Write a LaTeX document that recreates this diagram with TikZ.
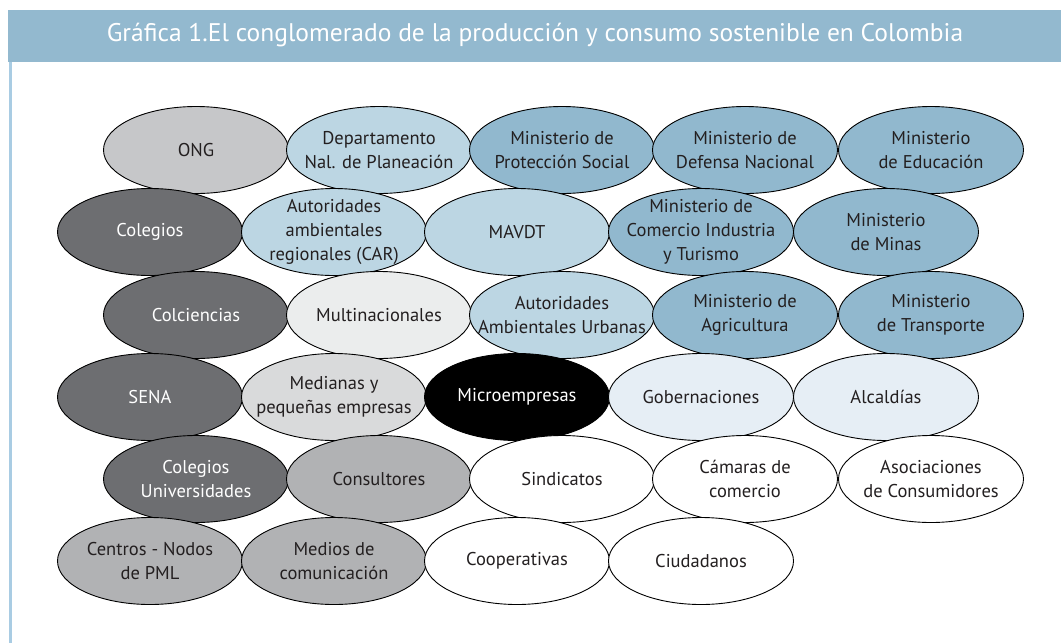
\documentclass[tikz,border=0pt]{standalone}
\usepackage{fontspec}
\setmainfont{PT Sans}
\usetikzlibrary{shapes.geometric}

\definecolor{bandblue}{HTML}{93B9CF}
\definecolor{lineblue}{HTML}{A9CCE3}
\definecolor{inkgray}{HTML}{231F20}
\definecolor{onggray}{HTML}{C6C7C9}
\definecolor{paleblue}{HTML}{BCD6E3}
\definecolor{minblue}{HTML}{91B8CE}
\definecolor{darkgray}{HTML}{6D6E71}
\definecolor{palegray}{HTML}{EBEDED}
\definecolor{lightgray}{HTML}{D9DADB}
\definecolor{iceblue}{HTML}{E6EEF5}
\definecolor{midgray}{HTML}{B1B2B4}

\tikzset{
	org/.style={ellipse,draw=black,line width=0.9pt,minimum width=185pt,minimum height=87pt,
		inner xsep=-30pt,inner ysep=-20pt,align=center,text=inkgray,
		font=\fontsize{18.5}{24}\selectfont},
	dark/.style={fill=darkgray,text=white},
}

\begin{document}
\begin{tikzpicture}[x=1pt,y=-1pt]
				\useasboundingbox (0,0) rectangle (1061,643);
				\fill [bandblue] (8,10) rectangle (1061,62);
				\fill [lineblue] (9,62) rectangle (12,643);
				\node [text=white,font=\fontsize{25.5}{28}\selectfont] (title) at (535,35) {Gráfica 1.El conglomerado de la producción y consumo sostenible en Colombia};
				
				\begin{scope}[every node/.style={org}]
					% fila 1
					\node [fill=onggray] (ong) at (196,150) {ONG};
					\node [fill=paleblue] (dnp) at (379,150) {Departamento\\Nal. de Planeación};
					\node [fill=minblue] (mps) at (562,150) {Ministerio de\\Protección Social};
					\node [fill=minblue] (mdn) at (745,150) {Ministerio de\\Defensa Nacional};
					\node [fill=minblue] (men) at (931,150) {Ministerio\\de Educación};
					% fila 2
					\node [dark] (colegios) at (150,232) {Colegios};
					\node [fill=paleblue] (car) at (334,232) {Autoridades\\ambientales\\regionales (CAR)};
					\node [fill=paleblue] (mavdt) at (517,232) {MAVDT};
					\node [fill=minblue] (mcit) at (701,232) {Ministerio de\\Comercio Industria\\y Turismo};
					\node [fill=minblue] (mminas) at (886,232) {Ministerio\\de Minas};
					% fila 3
					\node [dark] (colciencias) at (196,315) {Colciencias};
					\node [fill=palegray] (multinac) at (379,315) {Multinacionales};
					\node [fill=paleblue] (aau) at (562,315) {Autoridades\\Ambientales Urbanas};
					\node [fill=minblue] (magric) at (745,315) {Ministerio de\\Agricultura};
					\node [fill=minblue] (mtransp) at (931,315) {Ministerio\\de Transporte};
					% fila 4
					\node [dark] (sena) at (150,397) {SENA};
					\node [fill=lightgray] (pymes) at (334,397) {Medianas y\\pequeñas empresas};
					\node [fill=black,text=white] (micro) at (517,397) {Microempresas};
					\node [fill=iceblue] (gober) at (701,397) {Gobernaciones};
					\node [fill=iceblue] (alcald) at (886,397) {Alcaldías};
					% fila 5
					\node [dark] (coluniv) at (196,479) {Colegios\\Universidades};
					\node [fill=midgray] (consult) at (379,479) {Consultores};
					\node [fill=white] (sindic) at (562,479) {Sindicatos};
					\node [fill=white] (camaras) at (745,479) {Cámaras de\\comercio};
					\node [fill=white] (asocons) at (931,479) {Asociaciones\\de Consumidores};
					% fila 6
					\node [fill=midgray] (centros) at (150,561) {Centros - Nodos\\de PML};
					\node [fill=midgray] (medios) at (334,561) {Medios de\\comunicación};
					\node [fill=white] (coop) at (517,561) {Cooperativas};
					\node [fill=white] (ciudad) at (701,561) {Ciudadanos};
				\end{scope}
			\end{tikzpicture}
\end{document}
